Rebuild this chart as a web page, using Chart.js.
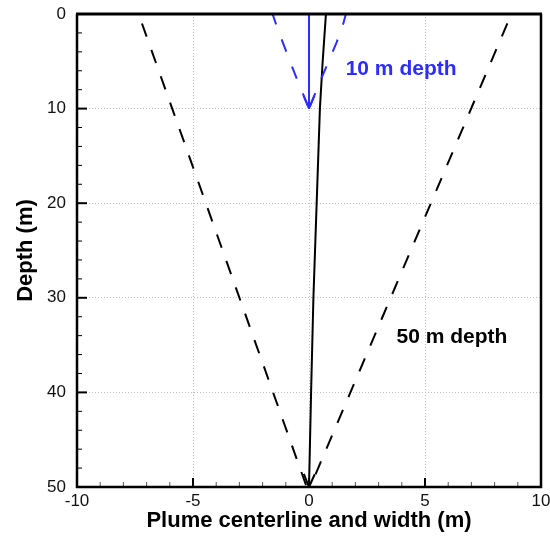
<!DOCTYPE html>
<html>
<head>
<meta charset="utf-8">
<script src="https://cdn.jsdelivr.net/npm/chart.js@4.4.0/dist/chart.umd.min.js"></script>
<style>
  html, body { margin: 0; padding: 0; background: #fff; }
  #wrap { width: 550px; height: 545px; }
</style>
</head>
<body>
<div id="wrap"><canvas id="plume" width="550" height="545"></canvas></div>
<script>
"use strict";
// 50 m release: centreline and plume edges (x in m, depth in m)
var depth50 = [0, 5, 10, 15, 20, 25, 30, 35, 40, 45, 50];
var center50 = [0.73, 0.59, 0.47, 0.40, 0.33, 0.26, 0.19, 0.14, 0.09, 0.045, 0];
var edgeDepth50 = [1, 50];
var leftEdge50 = [-7.2, -0.1];
var rightEdge50 = [8.55, 0.05];

// 10 m release
var depth10 = [0, 10];
var center10 = [0, 0];
var edgeDepth10 = [0, 1, 3, 5, 7, 10];
var leftEdge10 = [-1.57, -1.43, -1.13, -0.82, -0.5, 0];
var rightEdge10 = [1.59, 1.48, 1.19, 0.85, 0.5, 0];

var xTicks = [-10, -5, 0, 5, 10];
var yTicks = [0, 10, 20, 30, 40, 50];

var noteText = ['10 m depth', '50 m depth'];
var noteX = [3.97, 6.16];
var noteY = [5.8, 34.2];

var BLUE = '#2d2dff';
var FONT = "'Liberation Sans', Arial, Helvetica, sans-serif";

function toPoints(xs, ys) {
    return xs.map(function (v, i) { return { x: v, y: ys[i] }; });
}

function gridColor(ctx) {
    var v = ctx.tick.value;
    if (v === ctx.scale.min || v === ctx.scale.max) return 'rgba(0,0,0,0)';
    return '#bdbdbd';
}

var plumeDecor = {
    id: 'plumeDecor',
    afterDatasetsDraw: function (chart) {
        var ctx = chart.ctx;
        // open arrowheads at the end of the centrelines
        chart.data.datasets.forEach(function (ds, i) {
            if (!ds.arrow) return;
            var pts = chart.getDatasetMeta(i).data;
            var a = pts[pts.length - 2], b = pts[pts.length - 1];
            var ang = Math.atan2(b.y - a.y, b.x - a.x);
            ctx.save();
            ctx.strokeStyle = ds.borderColor;
            ctx.lineWidth = 2;
            ctx.setLineDash([]);
            ctx.beginPath();
            [-1, 1].forEach(function (s) {
                ctx.moveTo(b.x - 14 * Math.cos(ang + s * 0.4), b.y - 14 * Math.sin(ang + s * 0.4));
                ctx.lineTo(b.x, b.y);
            });
            ctx.stroke();
            ctx.restore();
        });
        // text notes
        var xs = chart.scales.x, ys = chart.scales.y;
        ctx.save();
        ctx.font = 'bold 21px ' + FONT;
        ctx.textAlign = 'center';
        ctx.textBaseline = 'middle';
        noteText.forEach(function (t, i) {
            ctx.fillStyle = i === 0 ? BLUE : '#000';
            ctx.fillText(t, xs.getPixelForValue(noteX[i]), ys.getPixelForValue(noteY[i]));
        });
        ctx.restore();
    },
    afterDraw: function (chart) {
        var ctx = chart.ctx, area = chart.chartArea;
        var xs = chart.scales.x, ys = chart.scales.y;
        var v, p;
        ctx.save();
        ctx.setLineDash([]);
        ctx.strokeStyle = '#000';
        // inside ticks, left axis
        for (v = ys.min + 2; v < ys.max; v += 2) {
            p = ys.getPixelForValue(v);
            var major = v % 10 === 0;
            ctx.lineWidth = major ? 2 : 1;
            ctx.beginPath();
            ctx.moveTo(area.left, p);
            ctx.lineTo(area.left + (major ? 10 : 5), p);
            ctx.stroke();
        }
        // inside ticks, bottom axis
        for (v = xs.min + 1; v < xs.max; v += 1) {
            p = xs.getPixelForValue(v);
            var maj = v % 5 === 0;
            ctx.lineWidth = maj ? 2 : 1;
            ctx.strokeStyle = maj ? '#000' : '#555';
            ctx.beginPath();
            ctx.moveTo(p, area.bottom);
            ctx.lineTo(p, area.bottom - (maj ? 9 : 5));
            ctx.stroke();
        }
        // frame
        ctx.strokeStyle = '#000';
        ctx.lineWidth = 2.5;
        ctx.beginPath();
        ctx.moveTo(area.left, area.top);
        ctx.lineTo(area.left, area.bottom);
        ctx.lineTo(area.right, area.bottom);
        ctx.lineTo(area.right, area.top);
        ctx.stroke();
        ctx.lineWidth = 3;
        ctx.beginPath();
        ctx.moveTo(area.left - 1, area.top);
        ctx.lineTo(area.right + 1, area.top);
        ctx.stroke();
        ctx.restore();
    }
};

var context = document.getElementById('plume');
new Chart(context, {
    type: 'scatter',
    data: {
        datasets: [
            { data: toPoints(center10, depth10), borderColor: BLUE, borderWidth: 2, arrow: true },
            { data: toPoints(leftEdge10, edgeDepth10), borderColor: BLUE, borderWidth: 2, borderDash: [13, 16], borderDashOffset: 2 },
            { data: toPoints(rightEdge10, edgeDepth10), borderColor: BLUE, borderWidth: 2, borderDash: [13, 16], borderDashOffset: 2 },
            { data: toPoints(center50, depth50), borderColor: '#000', borderWidth: 2, arrow: true },
            { data: toPoints(leftEdge50, edgeDepth50), borderColor: '#000', borderWidth: 2, borderDash: [14, 14] },
            { data: toPoints(rightEdge50, edgeDepth50), borderColor: '#000', borderWidth: 2, borderDash: [14, 14] }
        ]
    },
    options: {
        responsive: false,
        animation: false,
        devicePixelRatio: 1,
        showLine: true,
        layout: { padding: { top: 14, right: 9, left: 0, bottom: 0 } },
        plugins: { legend: { display: false }, tooltip: { enabled: false } },
        elements: { point: { radius: 0, hoverRadius: 0 }, line: { tension: 0, fill: false } },
        scales: {
            x: {
                type: 'linear', min: -10, max: 10,
                afterBuildTicks: function (s) { s.ticks = xTicks.map(function (v) { return { value: v }; }); },
                afterFit: function (s) { s.height = 58; s.paddingLeft = 0; s.paddingRight = 0; },
                grid: { color: gridColor, lineWidth: 1, drawTicks: false },
                border: { display: false, dash: [1, 2] },
                ticks: { color: '#111', font: { family: FONT, size: 17 }, padding: 4, maxRotation: 0, autoSkip: false },
                title: { display: true, text: 'Plume centerline and width (m)', color: '#000',
                    font: { family: FONT, size: 22, weight: 'bold' }, padding: { top: 0, bottom: 11 } }
            },
            y: {
                type: 'linear', min: 0, max: 50, reverse: true,
                afterBuildTicks: function (s) { s.ticks = yTicks.map(function (v) { return { value: v }; }); },
                afterFit: function (s) { s.width = 77; s.paddingTop = 0; s.paddingBottom = 0; },
                grid: { color: gridColor, lineWidth: 1, drawTicks: false },
                border: { display: false, dash: [1, 2] },
                ticks: { color: '#111', font: { family: FONT, size: 17 }, padding: 11, autoSkip: false },
                title: { display: true, text: 'Depth (m)', color: '#000',
                    font: { family: FONT, size: 22, weight: 'bold' }, padding: { top: 13, bottom: 0 } }
            }
        }
    },
    plugins: [plumeDecor]
});
</script>
</body>
</html>
